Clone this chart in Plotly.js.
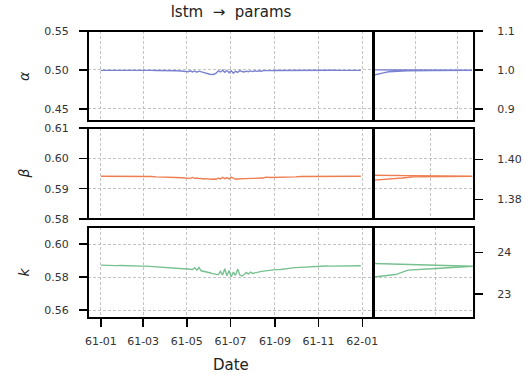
<!DOCTYPE html>
<html>
<head>
<meta charset="utf-8">
<script src="https://cdn.plot.ly/plotly-3.0.1.min.js"></script>
<style>html,body{margin:0;padding:0;background:#fff;}#chart{width:525px;height:375px;}</style>
</head>
<body>
<div id="chart"></div>
<script>
// ---- data ----
const dates = [
  '1961-01-01','1961-01-08','1961-01-15','1961-01-22','1961-01-29','1961-02-05','1961-02-12','1961-02-19','1961-02-26',
  '1961-03-05','1961-03-12','1961-03-19','1961-03-26','1961-04-02','1961-04-09','1961-04-16','1961-04-23','1961-04-30',
  '1961-05-03','1961-05-06','1961-05-09','1961-05-12','1961-05-15','1961-05-18','1961-05-21','1961-05-24','1961-05-27','1961-05-30',
  '1961-06-02','1961-06-05','1961-06-08','1961-06-11','1961-06-14','1961-06-17','1961-06-20','1961-06-23','1961-06-26','1961-06-29',
  '1961-07-02','1961-07-05','1961-07-08','1961-07-11','1961-07-14','1961-07-17','1961-07-20','1961-07-23','1961-07-26','1961-07-29',
  '1961-08-01','1961-08-04','1961-08-07','1961-08-10','1961-08-13','1961-08-16','1961-08-19',
  '1961-08-26','1961-09-02','1961-09-09','1961-09-16','1961-09-23','1961-09-30','1961-10-07','1961-10-14','1961-10-21','1961-10-28',
  '1961-11-04','1961-11-11','1961-11-18','1961-11-25','1961-12-02','1961-12-09','1961-12-16','1961-12-23','1961-12-30'
];
const alphaVals = [
  0.4995,0.4996,0.4995,0.4996,0.4995,0.4995,0.4996,0.4995,0.4995,
  0.4994,0.4995,0.4993,0.4994,0.4992,0.4993,0.4990,0.4988,0.4985,
  0.4978,0.4990,0.4975,0.4988,0.4972,0.4985,0.4975,0.4970,0.4960,0.4950,
  0.4945,0.4942,0.4945,0.4960,0.4990,0.4975,0.4998,0.4970,0.4995,0.4965,
  0.4990,0.4958,0.4985,0.4970,0.4992,0.4980,0.4975,0.4985,0.4978,0.4988,
  0.4980,0.4990,0.4983,0.4990,0.4985,0.4992,0.4990,
  0.4992,0.4993,0.4994,0.4994,0.4995,0.4995,0.4995,0.4996,0.4995,0.4995,
  0.4996,0.4995,0.4995,0.4996,0.4995,0.4995,0.4996,0.4995,0.4995
];
const betaVals = [
  0.5941,0.5941,0.5942,0.5941,0.5941,0.5941,0.5942,0.5941,0.5941,
  0.5940,0.5940,0.5939,0.5939,0.5938,0.5937,0.5937,0.5936,0.5935,
  0.5935,0.5934,0.5937,0.5934,0.5935,0.5933,0.5934,0.5932,0.5933,0.5932,
  0.5931,0.5931,0.5932,0.5931,0.5935,0.5932,0.5937,0.5933,0.5936,0.5932,
  0.5938,0.5933,0.5931,0.5932,0.5933,0.5932,0.5933,0.5933,0.5934,0.5933,
  0.5934,0.5934,0.5935,0.5934,0.5935,0.5935,0.5938,
  0.5937,0.5937,0.5938,0.5938,0.5939,0.5939,0.5940,0.5940,0.5940,0.5941,
  0.5941,0.5941,0.5941,0.5941,0.5941,0.5941,0.5941,0.5941,0.5941
];
const kVals = [
  0.5872,0.5870,0.5871,0.5869,0.5870,0.5868,0.5869,0.5867,0.5866,
  0.5866,0.5864,0.5863,0.5861,0.5860,0.5858,0.5856,0.5855,0.5852,
  0.5850,0.5847,0.5845,0.5856,0.5842,0.5858,0.5838,0.5836,0.5833,0.5830,
  0.5826,0.5822,0.5818,0.5816,0.5815,0.5835,0.5812,0.5850,0.5808,0.5840,
  0.5802,0.5830,0.5810,0.5848,0.5812,0.5806,0.5815,0.5828,0.5818,0.5830,
  0.5822,0.5826,0.5828,0.5832,0.5834,0.5836,0.5838,
  0.5841,0.5845,0.5846,0.5852,0.5854,0.5857,0.5859,0.5861,0.5863,0.5864,
  0.5866,0.5867,0.5866,0.5867,0.5867,0.5868,0.5866,0.5867,0.5868
];
// side panels (density-like curves: x = density, y = value)
const alphaSideX = [0, 0.07, 0.2, 0.35, 0.55, 0.8, 1.4, 2.35, 1.5, 0.6, 0];
const alphaSideY = [0.4936, 0.4942, 0.4960, 0.4978, 0.4987, 0.4991, 0.4994, 0.4996, 0.4998, 0.5000, 0.5002];
const betaSideX = [0, 0.2, 0.36, 0.5, 0.7, 1.2, 1.74, 1.2, 0.6, 0];
const betaSideY = [0.5928, 0.5930, 0.5932, 0.5935, 0.5939, 0.5940, 0.5941, 0.5942, 0.5943, 0.5944];
const kSideX = [0, 0.2, 0.35, 0.45, 0.5, 0.55, 1.0, 1.4, 1.6, 1.3, 0.8, 0.3, 0];
const kSideY = [0.5800, 0.5806, 0.5815, 0.5828, 0.5833, 0.5842, 0.5852, 0.5860, 0.5865, 0.5868, 0.5873, 0.5879, 0.5882];

const colA = '#7a82d2', colB = '#ee7d4f', colK = '#76c18f';
const W = 525, H = 375;
const px = v => v / W, py = v => 1 - v / H;

const lw = 1.4;
const traces = [
  {x: dates, y: alphaVals, xaxis: 'x', yaxis: 'y', mode: 'lines', line: {color: colA, width: lw}},
  {x: alphaSideX, y: alphaSideY, xaxis: 'x2', yaxis: 'y', mode: 'lines', line: {color: colA, width: lw}},
  {x: dates, y: betaVals, xaxis: 'x3', yaxis: 'y2', mode: 'lines', line: {color: colB, width: lw}},
  {x: betaSideX, y: betaSideY, xaxis: 'x4', yaxis: 'y2', mode: 'lines', line: {color: colB, width: lw}},
  {x: dates, y: kVals, xaxis: 'x5', yaxis: 'y3', mode: 'lines', line: {color: colK, width: lw}},
  {x: kSideX, y: kSideY, xaxis: 'x6', yaxis: 'y3', mode: 'lines', line: {color: colK, width: lw}},
  // empty traces so the right-hand twin axes are drawn
  {x: [], y: [], xaxis: 'x2', yaxis: 'y4', mode: 'lines', hoverinfo: 'skip'},
  {x: [], y: [], xaxis: 'x4', yaxis: 'y5', mode: 'lines', hoverinfo: 'skip'},
  {x: [], y: [], xaxis: 'x6', yaxis: 'y6', mode: 'lines', hoverinfo: 'skip'}
];

const font = {family: 'DejaVu Sans', size: 11, color: '#333'};
const gridStyle = {showgrid: true, gridcolor: '#b5b5b5', gridwidth: 0.8, griddash: '3px,2px', zeroline: false, showline: false};
const mainX = [0.1676, 0.7105], sideX = [0.7124, 0.9029];
const rows = [[py(121), py(31)], [py(219), py(128)], [py(318), py(227)]];
const dateRange = ['1960-12-14', '1962-01-16'];

function mainXAxis(anchor, last) {
  return Object.assign({}, gridStyle, {
    domain: mainX, anchor: anchor, type: 'date', range: dateRange,
    tick0: '1961-01-01', dtick: 'M2', tickformat: '%y-%m',
    showticklabels: last, ticks: last ? 'outside' : '', ticklen: 8, tickwidth: 1.5, tickcolor: '#000',
    ticklabelstandoff: 5, tickfont: font
  });
}
function sideXAxis(anchor, range) {
  return Object.assign({}, gridStyle, {
    domain: sideX, anchor: anchor, range: range, dtick: 1, tick0: 0,
    showticklabels: false, ticks: ''
  });
}
function leftY(anchor, domain, range, dtick, fmt) {
  return Object.assign({}, gridStyle, {
    domain: domain, anchor: anchor, range: range, dtick: dtick, tick0: 0, tickformat: fmt,
    ticks: 'outside', ticklen: 8, tickwidth: 1.5, tickcolor: '#000', tickfont: font, ticklabelstandoff: 8
  });
}
function rightY(anchor, overlay, range, dtick, fmt) {
  return {
    overlaying: overlay, anchor: anchor, side: 'right', range: range, dtick: dtick, tick0: 0, tickformat: fmt,
    showgrid: false, zeroline: false, showline: false,
    ticks: 'outside', ticklen: 8, tickwidth: 1.5, tickcolor: '#000', tickfont: font, ticklabelstandoff: 12
  };
}

const shapes = [];
[['x','y'],['x2','y'],['x3','y2'],['x4','y2'],['x5','y3'],['x6','y3']].forEach(([xa, ya]) => {
  shapes.push({type: 'rect', xref: xa + ' domain', yref: ya + ' domain', x0: 0, x1: 1, y0: 0, y1: 1,
    line: {color: '#000', width: 2}, fillcolor: 'rgba(0,0,0,0)', layer: 'above'});
});

const annFont = {family: 'DejaVu Sans', size: 14, color: '#222', style: 'italic'};
const annotations = [
  {text: 'α', x: px(24), y: (rows[0][0] + rows[0][1]) / 2},
  {text: 'β', x: px(24), y: (rows[1][0] + rows[1][1]) / 2},
  {text: 'k', x: px(24), y: (rows[2][0] + rows[2][1]) / 2}
].map(a => Object.assign(a, {xref: 'paper', yref: 'paper', showarrow: false, textangle: -90,
  xanchor: 'center', yanchor: 'middle', font: annFont}));
annotations.push({text: 'Date', xref: 'paper', yref: 'paper', x: px(231), y: py(365), showarrow: false,
  xanchor: 'center', yanchor: 'middle', font: {family: 'DejaVu Sans', size: 15, color: '#222'}});

const layout = {
  width: W, height: H, margin: {l: 0, r: 0, t: 0, b: 0},
  paper_bgcolor: '#fff', plot_bgcolor: '#fff', showlegend: false,
  title: {text: 'lstm\u00a0\u00a0→\u00a0\u00a0params', x: px(231), xanchor: 'center', y: py(12), yanchor: 'middle',
    xref: 'paper', yref: 'paper', font: {family: 'DejaVu Sans', size: 15, color: '#222'}},
  xaxis: mainXAxis('y', false),
  xaxis2: sideXAxis('y', [0, 2.4]),
  xaxis3: mainXAxis('y2', false),
  xaxis4: sideXAxis('y2', [0, 1.77]),
  xaxis5: mainXAxis('y3', true),
  xaxis6: sideXAxis('y3', [0, 1.62]),
  yaxis: leftY('x', rows[0], [0.4346, 0.55], 0.05, '.2f'),
  yaxis2: leftY('x3', rows[1], [0.58, 0.61], 0.01, '.2f'),
  yaxis3: leftY('x5', rows[2], [0.5552, 0.6103], 0.02, '.2f'),
  yaxis4: rightY('x2', 'y', [0.869, 1.1], 0.1, '.1f'),
  yaxis5: rightY('x4', 'y2', [1.3702, 1.4157], 0.02, '.2f'),
  yaxis6: rightY('x6', 'y3', [22.424, 24.607], 1, 'd'),
  shapes: shapes,
  annotations: annotations
};

Plotly.newPlot('chart', traces, layout, {staticPlot: true, displayModeBar: false});
</script>
</body>
</html>
